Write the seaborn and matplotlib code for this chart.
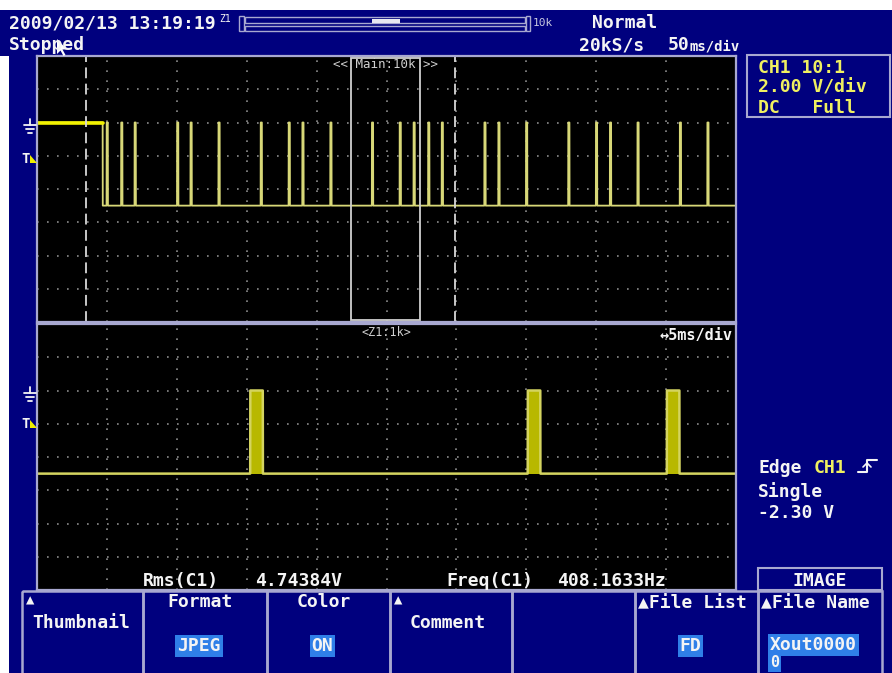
import numpy as np
import pandas as pd
import seaborn as sns
import matplotlib.pyplot as plt
from matplotlib.patches import Rectangle, Polygon

# scope settings / readings
main_ms_per_div = 50
zoom_ms_per_div = 5
volts_per_div = 2.0
fall_ms = 47.0
high_v = 0.0
low_v = -5.0
pulse_width_ms = 0.9
pulse_times_ms = [49.8, 60.2, 69.8, 100.2, 109.8, 129.8, 160.0, 180.0, 189.8, 209.8,
                  239.55, 259.4, 269.35, 279.8, 289.5, 320.0, 330.0, 349.8, 380.0, 399.8,
                  409.8, 429.5, 459.8, 479.5]
window_start_ms = 224.3
cursor_ms = [35.0, 299.3]

header_lines = ["2009/02/13 13:19:19", "Stopped"]
ch_lines = ["CH1 10:1", "2.00 V/div", "DC   Full"]
trig_lines = ["Edge", "Single", "-2.30 V"]
meas_labels = ["Rms(C1)", "Freq(C1)"]
meas_values = ["4.74384V", "408.1633Hz"]
menu_titles = ["", "Format", "Color", "", "", "\u25b2File List", "\u25b2File Name"]
menu_labels = ["Thumbnail", "", "", "Comment", "", "", ""]
menu_values = ["", "JPEG", "ON", "", "", "FD", "Xout0000"]

NAVY = "#00007e"
FRAME = "#a8a8d0"
GRID = "#8c8c8c"
TEXT = "#f4f4f4"
YEL = "#f0f060"
HL = "#2f7fe8"

sns.set_style("dark")
plt.rcParams["font.family"] = ["DejaVu Sans Mono", "DejaVu Sans"]
plt.rcParams["font.weight"] = "bold"


def trace(t):
    v = np.where(t < fall_ms, high_v, low_v)
    for p in pulse_times_ms:
        v[(t >= p) & (t < p + pulse_width_ms)] = high_v
    return v


t_main = np.arange(0, 10 * main_ms_per_div + 0.05, 0.05)
main_df = pd.DataFrame({"t": t_main, "v": trace(t_main)})
window_end_ms = window_start_ms + 10 * zoom_ms_per_div
t_zoom = np.arange(window_start_ms, window_end_ms, 0.005)
zoom_df = pd.DataFrame({"t": t_zoom, "v": trace(t_zoom)})

W, H = 892, 673
fig = plt.figure(figsize=(W / 100, H / 100), dpi=100, facecolor=NAVY)


def px_axes(x0, y0, x1, y1):
    return fig.add_axes([x0 / W, 1 - y1 / H, (x1 - x0) / W, (y1 - y0) / H])


ax1 = px_axes(37, 56, 736, 322)
ax2 = px_axes(37, 324, 736, 590)

for ax, xmin, step in [(ax1, 0, main_ms_per_div), (ax2, window_start_ms, zoom_ms_per_div)]:
    ax.set_facecolor("black")
    ax.set_xlim(xmin, xmin + 10 * step)
    ax.set_ylim(-6 * volts_per_div, 2 * volts_per_div)
    ax.set_xticks([xmin + i * step for i in range(1, 10)])
    ax.set_yticks([-volts_per_div * i for i in range(-1, 6)])
    ax.grid(True, color=GRID, linestyle=(0, (1, 5)), linewidth=1.2)
    ax.tick_params(length=0, labelbottom=False, labelleft=False)
    for s in ax.spines.values():
        s.set_color(FRAME)
        s.set_linewidth(1.6)
        s.set_visible(True)

# main trace
sns.lineplot(data=main_df, x="t", y="v", ax=ax1, color="#d8d878", linewidth=1.3,
             estimator=None, sort=False)
sns.lineplot(data=main_df[main_df.t < fall_ms], x="t", y="v", ax=ax1, color="#f2f200",
             linewidth=2.6, estimator=None)
ax1.set_xlabel("")
ax1.set_ylabel("")
for c in cursor_ms:
    ax1.axvline(c, color="#d8d8d8", linestyle=(0, (6, 3)), linewidth=1.3)
ax1.add_patch(Rectangle((window_start_ms, -11.85), window_end_ms - window_start_ms, 15.75,
                        fill=False, edgecolor="#d0d0d0", linewidth=1.3, zorder=5))
ax1.text((window_start_ms + window_end_ms) / 2, 3.5, "<< Main:10k >>", color="#d0d0d0",
         fontsize=9, fontweight="normal", ha="center", va="center")

# zoomed trace
ax2.fill_between(zoom_df.t, low_v, zoom_df.v, where=zoom_df.v > low_v, color="#b8b800",
                 linewidth=0)
sns.lineplot(data=zoom_df, x="t", y="v", ax=ax2, color="#d4d460", linewidth=1.8,
             estimator=None, sort=False)
ax2.set_xlabel("")
ax2.set_ylabel("")
ax2.text((window_start_ms + window_end_ms) / 2, 3.5, "<Z1:1k>", color="#d0d0d0",
         fontsize=8.5, fontweight="normal", ha="center", va="center")
ax2.text(0.995, 0.955, "\u21945ms/div", color=TEXT, fontsize=11, ha="right", va="center",
         transform=ax2.transAxes)

# overlay in pixel coordinates for the instrument chrome
ov = fig.add_axes([0, 0, 1, 1], zorder=10)
ov.set_xlim(0, W)
ov.set_ylim(H, 0)
ov.axis("off")
ov.patch.set_alpha(0)

ov.add_patch(Rectangle((0, 0), W, 10, color="white", lw=0))
ov.add_patch(Rectangle((0, 56), 9, H, color="white", lw=0))


def txt(x, y, s, color=TEXT, size=13, ha="left", hl=False, weight="bold"):
    kw = {}
    if hl:
        kw["bbox"] = dict(boxstyle="square,pad=0.1", fc=HL, ec="none")
    ov.text(x, y, s, color=color, fontsize=size, ha=ha, va="baseline",
            fontweight=weight, **kw)


txt(9, 28, header_lines[0])
txt(9, 50, header_lines[1])
txt(219, 22, "Z1", size=7, weight="normal")
ov.add_patch(Rectangle((239, 16), 5, 15, fill=False, ec=FRAME, lw=1))
ov.add_patch(Rectangle((245, 17), 280, 6, fill=False, ec=FRAME, lw=1))
ov.add_patch(Rectangle((245, 26), 280, 5, fill=False, ec=FRAME, lw=1))
ov.add_patch(Rectangle((372, 18.5), 28, 4, color="#e8e8f0", lw=0))
ov.add_patch(Rectangle((526, 16), 4, 15, fill=False, ec=FRAME, lw=1))
txt(533, 26, "10k", color="#c8c8e0", size=8, weight="normal")
txt(592, 28, "Normal")
txt(579, 50, "20kS/s")
txt(668, 50, "50", size=13)
txt(689, 50, "ms/div", size=10)

# channel box
ov.add_patch(Rectangle((747, 55), 143, 62, fill=False, ec=FRAME, lw=1.5))
for i, s in enumerate(ch_lines):
    txt(758, 73 + i * 20, s, color=YEL)

# trigger info
txt(758, 473, trig_lines[0])
txt(814, 473, "CH1", color=YEL)
ov.plot([858, 867, 867, 877], [472, 472, 460, 460], color=TEXT, lw=1.5)
ov.plot([863, 867, 871], [467, 463, 467], color=TEXT, lw=1.2)
txt(758, 497, trig_lines[1])
txt(758, 518, trig_lines[2])

# ground / trigger level markers
for gy, ty in [(122, 163), (390, 428)]:
    ov.plot([30, 30], [gy - 3, gy + 3], color=TEXT, lw=1.3)
    for k, hw in enumerate([6, 4, 2]):
        ov.plot([30 - hw, 30 + hw], [gy + 3 + 4 * k, gy + 3 + 4 * k], color=TEXT, lw=1.3)
    txt(21, ty, "T", size=10)
    ov.add_patch(Polygon([[30, ty - 8], [30, ty], [37, ty]], color="#f0f000", lw=0))

# mouse pointer
ov.add_patch(Polygon([[57, 39], [57, 54], [60.5, 50.5], [63.5, 56], [65.5, 55],
                      [62.5, 49.5], [67, 49.5]], color="white", lw=0))

# measurement row
txt(143, 586, meas_labels[0])
txt(255, 586, meas_values[0])
txt(446, 586, meas_labels[1])
txt(557, 586, meas_values[1])

# soft-key menu
edges = [22, 143, 267, 390, 512, 635, 758, 882]
ov.add_patch(Rectangle((758, 568), 124, 22, fill=False, ec=FRAME, lw=1.5))
txt(820, 586, "IMAGE", ha="center")
for i in range(7):
    x0, x1 = edges[i], edges[i + 1]
    ov.add_patch(Rectangle((x0, 591), x1 - x0, 100, fill=False, ec=FRAME, lw=1.8))
    cx = (x0 + x1) / 2
    if menu_titles[i].startswith("\u25b2"):
        txt(x0 + 3, 608, menu_titles[i])
    elif menu_titles[i]:
        txt(cx - 5, 607, menu_titles[i], ha="center")
    if menu_labels[i]:
        txt(x0 + 4, 604, "\u25b2", size=10)
        txt(x0 + 10 if i == 0 else x0 + 20, 628, menu_labels[i])
    if menu_values[i]:
        if i == 6:
            txt(x0 + 12, 650, menu_values[i], hl=True)
            txt(x0 + 12, 667, "0", size=11, hl=True)
        else:
            txt(cx - 6, 651, menu_values[i], ha="center", hl=True)

fig.savefig("out.png", dpi=100, facecolor=NAVY)
